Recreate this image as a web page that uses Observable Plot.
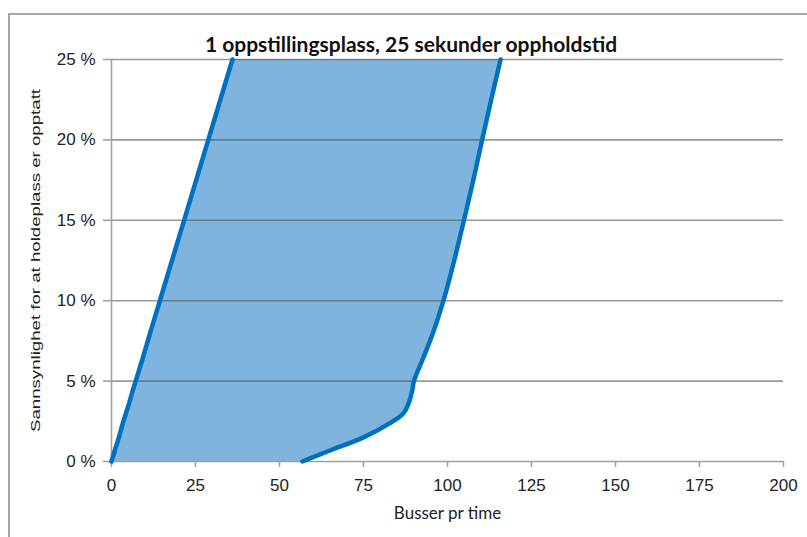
<!DOCTYPE html>
<html>
<head>
<meta charset="utf-8">
<script src="https://cdn.jsdelivr.net/npm/d3@7"></script>
<script src="https://cdn.jsdelivr.net/npm/@observablehq/plot@0.6"></script>
<style>
  html, body { margin: 0; padding: 0; background: #fff; overflow: hidden; }
  #wrap { position: relative; width: 807px; height: 537px; overflow: hidden; background: #fff; }
  #frame { position: absolute; left: 8px; top: 13px; width: 820px; height: 560px; border: 2px solid #a6a6a6; box-sizing: border-box; pointer-events: none; }
  #title { position: absolute; top: 31px; left: 411px; transform: translateX(-50%); white-space: nowrap; line-height: 1.2;
           font-family: Lato, "Open Sans", sans-serif; font-weight: bold; font-size: 21px; color: #111; }
  #chart { position: absolute; left: 0; top: 0; }
</style>
</head>
<body>
<div id="wrap">
  <div id="chart"></div>
  <div id="frame"></div>
  <div id="title"></div>
</div>
<script>
const title = "1 oppstillingsplass, 25 sekunder oppholdstid";
const xLabel = "Busser pr time";
const yLabel = "Sannsynlighet for at holdeplass er opptatt";
const xTicks = [0, 25, 50, 75, 100, 125, 150, 175, 200];
const yTicks = [0, 0.05, 0.10, 0.15, 0.20, 0.25];

// probability (fraction), left boundary (buses/h), right boundary (buses/h)
const prob  = [0, 0.007, 0.015, 0.024, 0.030, 0.036, 0.044, 0.050, 0.065, 0.080, 0.100, 0.125, 0.150, 0.175, 0.200, 0.225, 0.250];
const left  = [0, 1.0, 2.2, 3.4, 4.3, 5.2, 6.3, 7.2, 9.4, 11.5, 14.4, 18.0, 21.6, 25.2, 28.8, 32.4, 36.0];
const right = [56.8, 65.2, 75.0, 83.0, 86.9, 88.4, 89.5, 90.0, 92.9, 95.7, 98.8, 102.0, 104.9, 107.7, 110.3, 113.0, 115.8];

const rows = prob.map((p, i) => ({p, left: left[i], right: right[i]}));

document.getElementById("title").textContent = title;

const lineColor = "#0070c0";
const fillColor = "#7eb4dd";

const chart = Plot.plot({
  width: 807,
  height: 537,
  marginLeft: 111,
  marginRight: 24,
  marginTop: 59,
  marginBottom: 76,
  style: {fontFamily: "'Liberation Sans', Arial, sans-serif", fontSize: "17px", color: "#222", background: "transparent"},
  x: {domain: [0, 200]},
  y: {domain: [0, 0.25]},
  marks: [
    Plot.areaX(rows, {y: "p", x1: "left", x2: "right", fill: fillColor, curve: "catmull-rom"}),
    Plot.gridY(yTicks.slice(1), {stroke: "#555", strokeOpacity: 0.6, strokeWidth: 1.6}),
    Plot.ruleY([0], {stroke: "#a0a0a0", strokeWidth: 1.6}),
    Plot.ruleX([0], {stroke: "#a0a0a0", strokeWidth: 1.6, y1: 0, y2: 0.25}),
    Plot.axisX({ticks: xTicks, tickSize: 6, tickPadding: 11, stroke: "#a0a0a0", strokeWidth: 1.6, fill: "#222", label: null}),
    Plot.axisY({ticks: yTicks, tickSize: 8, tickPadding: 8, stroke: "#a0a0a0", strokeWidth: 1.6, fill: "#222",
                tickFormat: d => Math.round(d * 100) + " %", label: null}),
    Plot.line(rows, {x: "left", y: "p", stroke: lineColor, strokeWidth: 4.5, curve: "linear"}),
    Plot.line(rows, {x: "right", y: "p", stroke: lineColor, strokeWidth: 4.5, curve: "catmull-rom"}),
    Plot.text([xLabel], {frameAnchor: "bottom", dy: 57, text: d => d, fontFamily: "Lato, 'Open Sans', sans-serif", fontSize: 17, fill: "#222"}),
    Plot.text([yLabel], {frameAnchor: "left", textAnchor: "middle", dx: -76, rotate: -90, text: d => d,
                         fontFamily: "'Liberation Sans', Arial, sans-serif", fontSize: 13, fill: "#222"})
  ]
});
document.getElementById("chart").appendChild(chart);
// stretch the rotated y label to the reference length
d3.select(chart).selectAll("text").filter(function () { return this.textContent === yLabel; })
  .attr("textLength", 343).attr("lengthAdjust", "spacingAndGlyphs");
</script>
</body>
</html>
